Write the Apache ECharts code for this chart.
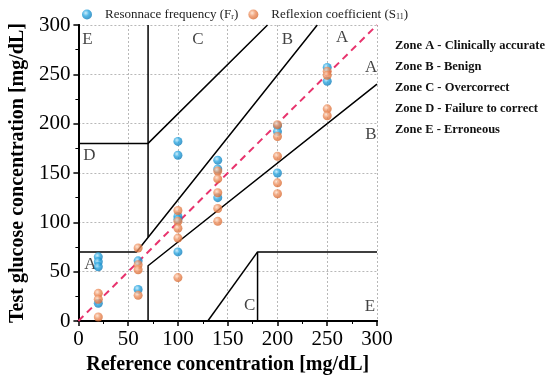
<!DOCTYPE html>
<html>
<head>
<meta charset="utf-8">
<script src="https://cdn.jsdelivr.net/npm/echarts@6/dist/echarts.min.js"></script>
<style>html,body{margin:0;padding:0;background:#fff}#c{width:550px;height:380px}</style>
</head>
<body>
<div id="c"></div>
<script>
// ---- data ----
const seriesNames = ['Resonnace frequency (Fr)', 'Reflexion coefficient (S11)'];
const resonanceX = [20,20,20,20, 60,60, 100,100,100,100,100, 140,140,140, 200,200,200, 250,250];
const resonanceY = [65,60,55,18, 61,32, 182,168,106,103,70, 163,154,125, 198,192,150, 257,243];
const reflexionX = [20,20,20, 60,60,60,60, 100,100,100,100,100, 140,140,140,140,140, 200,200,200,200,200, 250,250,250,250];
const reflexionY = [28,22,4, 74,57,52,26, 112,101,94,84,44, 152,144,130,114,101, 199,187,167,140,129, 253,249,215,208];
const axisTicks = [0,50,100,150,200,250,300];
// Clarke error grid boundaries
const identityLine = [[0,0],[300,300]];
const upperA = [[0,70],[58.33,70],[240,300]];
const upperVert = [[70,85],[70,300]];
const upperB = [[0,180],[70,180],[190,300]];
const lowerA = [[70,0],[70,56],[300,240]];
const lowerC = [[130,0],[180,70]];
const lowerE = [[180,0],[180,70],[300,70]];
const zoneLabels = [['E',9,285],['C',120,285],['B',210,285],['A',265,287],['A',294,257],['B',294,189],['D',11,168],['A',12,57],['C',172,16],['E',293,15]];
const zoneDescriptions = ['Zone A - Clinically accurate','Zone B - Benign','Zone C - Overcorrect','Zone D - Failure to correct','Zone E - Erroneous'];

const SERIF = '"Liberation Serif", "DejaVu Serif", serif';
function ball(light, mid, dark){
  return {type:'radial', x:0.38, y:0.35, r:0.7, colorStops:[{offset:0,color:light},{offset:0.45,color:mid},{offset:1,color:dark}]};
}
const blueBall = ball('#bfe9fb','#2aa6e0','#0f78b5');
const orangeBall = ball('#fde0cc','#ee9262','#d5672e');
const zip = (xs, ys) => xs.map((x,i)=>[x, ys[i]]);
const boundary = (data, extra) => Object.assign({type:'line', data, symbol:'none', silent:true, lineStyle:{color:'#000', width:1.5}, z:2}, extra||{});

const chart = echarts.init(document.getElementById('c'), null, {renderer:'canvas'});
const axisCommon = {
  type:'value', min:0, max:300, interval:50,
  axisLine:{show:true, onZero:false, lineStyle:{color:'#000', width:2}},
  axisTick:{show:true, inside:false, length:5, lineStyle:{color:'#000', width:1.5}},
  minorTick:{show:true, splitNumber:2, length:3, lineStyle:{color:'#000', width:1}},
  axisLabel:{color:'#000', fontSize:21, fontFamily:SERIF, formatter:v=>axisTicks.includes(v)?String(v):''},
  splitLine:{show:true, lineStyle:{color:'#b8b8b8', type:[2,2], width:1}},
  nameLocation:'middle',
  nameTextStyle:{color:'#000', fontSize:20, fontWeight:'bold', fontFamily:SERIF}
};
const frameAxis = {type:'value', min:0, max:300, axisLine:{show:true, lineStyle:{color:'#000', width:2}}, axisTick:{show:false}, axisLabel:{show:false}, splitLine:{show:false}};
chart.setOption({
  animation:false,
  backgroundColor:'#fff',
  grid:{left:76, right:173, top:25, bottom:59},
  legend:{
    data:seriesNames, top:3, left:77, itemWidth:10, itemHeight:10, itemGap:10, icon:'circle',
    textStyle:{fontFamily:SERIF, fontSize:13, color:'#222', padding:[0,0,0,8],
      rich:{s:{fontSize:8, fontFamily:SERIF, color:'#222', padding:[5,0,0,0]}}},
    formatter: n => n==='Resonnace frequency (Fr)' ? 'Resonnace frequency (F{s|r})' : 'Reflexion coefficient (S{s|11})',
  },
  xAxis:[Object.assign({}, axisCommon, {name:'Reference concentration [mg/dL]', nameGap:33, position:'bottom'}), Object.assign({}, frameAxis, {position:'top'})],
  yAxis:[Object.assign({}, axisCommon, {name:'Test glucose concentration [mg/dL]', nameGap:45, position:'left'}), Object.assign({}, frameAxis, {position:'right'})],
  graphic: zoneDescriptions.map((t,i)=>({type:'text', left:395, top:39+i*21, style:{text:t, fontFamily:SERIF, fontSize:12.5, fontWeight:'bold', fill:'#111'}})),
  series:[
    boundary(upperA), boundary(upperVert), boundary(upperB), boundary(lowerA), boundary(lowerC), boundary(lowerE),
    boundary(identityLine, {lineStyle:{color:'#e8336d', width:2, type:[7,5]}}),
    {type:'scatter', name:'Resonnace frequency (Fr)', data:zip(resonanceX, resonanceY), symbolSize:9, itemStyle:{color:blueBall}, z:5},
    {type:'scatter', name:'Reflexion coefficient (S11)', data:zip(reflexionX, reflexionY), symbolSize:9, itemStyle:{color:orangeBall}, z:6},
    {type:'scatter', silent:true, symbolSize:0, data:zoneLabels.map(z=>({name:z[0], value:[z[1],z[2]]})),
     label:{show:true, position:'inside', formatter:'{b}', fontFamily:SERIF, fontSize:17, color:'#111'}, z:3}
  ]
});
</script>
</body>
</html>
